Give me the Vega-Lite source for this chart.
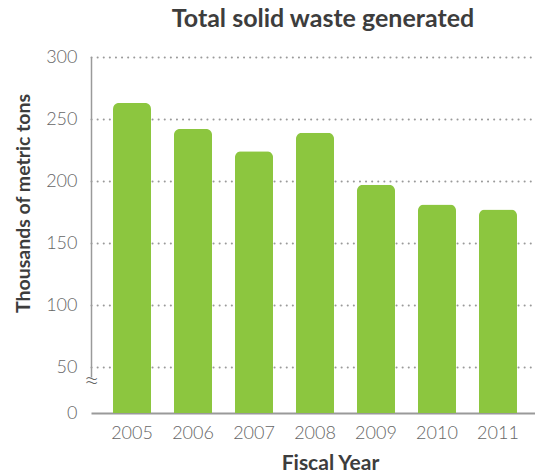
{
  "$schema": "https://vega.github.io/schema/vega-lite/v6.json",
  "width": 444,
  "height": 356,
  "autosize": {"type": "none"},
  "padding": {"left": 91, "top": 57, "right": 0, "bottom": 60},
  "background": "white",
  "title": {
    "text": "Total solid waste generated",
    "font": "Lato",
    "fontSize": 25,
    "fontWeight": "bold",
    "color": "#3d3d3d",
    "anchor": "middle",
    "dx": 10,
    "offset": 16
  },
  "data": {
    "values": [
      {"year": "2005", "waste": 263},
      {"year": "2006", "waste": 242},
      {"year": "2007", "waste": 224},
      {"year": "2008", "waste": 239},
      {"year": "2009", "waste": 197},
      {"year": "2010", "waste": 181},
      {"year": "2011", "waste": 177}
    ]
  },
  "config": {
    "view": {"stroke": null},
    "axis": {"labelFont": "Lato", "titleFont": "Lato"}
  },
  "layer": [
    {
      "mark": {"type": "bar", "color": "#8cc63f", "cornerRadiusTopLeft": 6, "cornerRadiusTopRight": 6},
      "encoding": {
        "x": {
          "field": "year",
          "type": "nominal",
          "scale": {"paddingInner": 0.377, "paddingOuter": 0.328, "align": 0.55},
          "axis": {
            "title": "Fiscal Year",
            "titleFontSize": 21,
            "titleFontWeight": "bold",
            "titleColor": "#3d3d3d",
            "titleX": 239,
            "titleY": 56,
            "titleBaseline": "alphabetic",
            "labelAngle": 0,
            "labelFontSize": 18,
            "labelFontWeight": 300,
            "labelColor": "#666666",
            "labelPadding": 11,
            "ticks": false,
            "tickSize": 0,
            "domain": true,
            "domainColor": "#9a9a9a",
            "domainWidth": 2,
            "grid": false
          }
        },
        "y": {
          "field": "waste",
          "type": "quantitative",
          "scale": {"domain": [0, 50, 300], "range": [356, 310, 0]},
          "axis": {
            "title": "Thousands of metric tons",
            "titleFontSize": 19.5,
            "titleFontWeight": "bold",
            "titleColor": "#3d3d3d",
            "titleX": -62,
            "titleY": 146,
            "titleBaseline": "alphabetic",
            "titleAngle": -90,
            "values": [0, 34, 50, 100, 150, 200, 250, 300],
            "labelExpr": "datum.value == 34 ? '≈' : datum.label",
            "labelFontSize": {"condition": {"test": "datum.value == 34", "value": 28}, "value": 18},
            "labelFontWeight": 300,
            "labelColor": "#666666",
            "labelAlign": {"condition": {"test": "datum.value == 34", "value": "center"}, "value": "right"},
            "labelPadding": {"condition": {"test": "datum.value == 34", "value": 0}, "value": 14},
            "ticks": false,
            "tickSize": 0,
            "domain": false,
            "grid": true,
            "gridColor": "#9a9a9a",
            "gridWidth": 2,
            "gridCap": "round",
            "gridDash": [0.1, 6],
            "gridOpacity": {"condition": {"test": "datum.value < 50", "value": 0}, "value": 1}
          }
        }
      }
    },
    {
      "mark": {"type": "rule", "opacity": 0},
      "encoding": {
        "y": {
          "datum": 300,
          "type": "quantitative",
          "scale": {"domain": [42, 300], "range": [320, 0]},
          "axis": {
            "orient": "left",
            "title": null,
            "labels": false,
            "ticks": false,
            "grid": false,
            "domain": true,
            "domainColor": "#9a9a9a",
            "domainWidth": 1.5
          }
        }
      }
    }
  ],
  "resolve": {"scale": {"y": "independent"}, "axis": {"y": "independent"}}
}
